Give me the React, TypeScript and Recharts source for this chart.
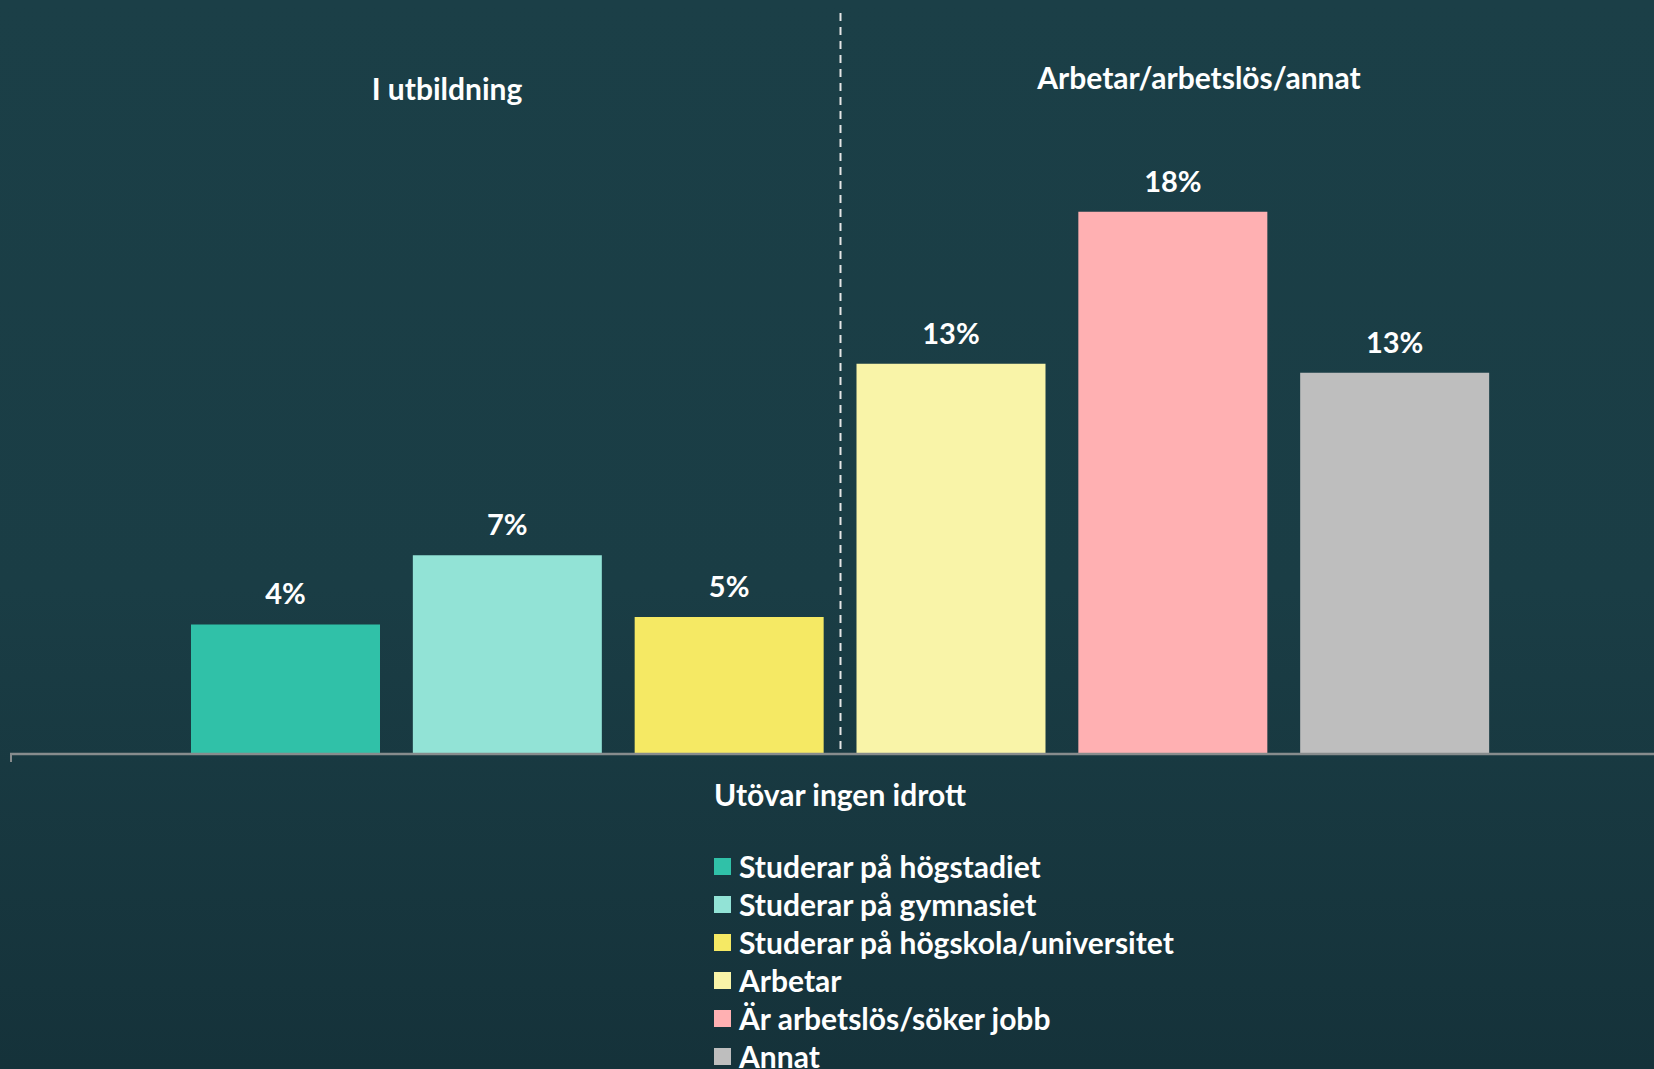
import React from 'react'
import { Bar, BarChart, Cell, LabelList, ReferenceLine, XAxis, YAxis } from 'recharts'

const categories = [
  'Studerar på högstadiet',
  'Studerar på gymnasiet',
  'Studerar på högskola/universitet',
  'Arbetar',
  'Är arbetslös/söker jobb',
  'Annat',
]
const values = [4.3, 6.6, 4.55, 12.96, 18.0, 12.66]
const valueLabels = ['4%', '7%', '5%', '13%', '18%', '13%']
const colors = ['#30c1a8', '#92e3d6', '#f5e964', '#f9f4a8', '#ffb0b2', '#bebebe']
const groupTitles = ['I utbildning', 'Arbetar/arbetslös/annat']
const axisTitle = 'Utövar ingen idrott'

const data = categories.map((name, i) => ({ name, value: values[i], label: valueLabels[i] }))

const W = 1654
const H = 1069
const FONT = 'Lato, "Open Sans", sans-serif'

const textStyle: React.CSSProperties = {
  position: 'absolute',
  color: '#ffffff',
  fontFamily: FONT,
  fontWeight: 700,
  whiteSpace: 'nowrap',
  transform: 'translateX(-50%)',
}

export default function App() {
  return (
    <div
      style={{
        position: 'absolute',
        left: 0,
        top: 0,
        width: W,
        height: H,
        overflow: 'hidden',
        background: 'linear-gradient(to bottom, #1b3f47 0%, #1a3d45 55%, #15323a 100%)',
      }}
    >
      <BarChart
        width={W}
        height={H}
        data={data}
        margin={{ top: 1, right: 0, left: 10, bottom: 285 }}
        barSize={189}
      >
        <XAxis
          dataKey="name"
          height={30}
          tick={false}
          tickLine={false}
          axisLine={{ stroke: '#878c8d', strokeWidth: 2.5 }}
          padding={{ left: 165, right: 148 }}
        />
        <YAxis hide domain={[0, 25]} />
        {/* divider between the two groups, at the end of the third band */}
        <ReferenceLine
          segment={[
            { x: categories[2], y: 24.6 },
            { x: categories[2], y: 0.15 },
          ]}
          position="end"
          stroke="#e6e6e6"
          strokeWidth={2}
          strokeDasharray="8 6"
        />
        <Bar dataKey="value" isAnimationActive={false}>
          {data.map((entry, index) => (
            <Cell key={`cell-${index}`} fill={colors[index]} />
          ))}
          <LabelList
            dataKey="label"
            position="top"
            offset={20}
            fill="#ffffff"
            style={{ fontFamily: FONT, fontWeight: 700, fontSize: 29 }}
          />
        </Bar>
      </BarChart>

      {/* small tick at the left end of the axis */}
      <div style={{ position: 'absolute', left: 10, top: 754, width: 2, height: 8, background: '#878c8d' }} />

      <div style={{ ...textStyle, left: 447, top: 69, fontSize: 30, lineHeight: '38px' }}>{groupTitles[0]}</div>
      <div style={{ ...textStyle, left: 1199, top: 58, fontSize: 30, lineHeight: '38px' }}>{groupTitles[1]}</div>
      <div style={{ ...textStyle, left: 840, top: 775, fontSize: 30, lineHeight: '38px' }}>{axisTitle}</div>

      {categories.map((name, i) => (
        <div
          key={name}
          style={{
            position: 'absolute',
            left: 714,
            top: 847 + i * 38,
            height: 38,
            display: 'flex',
            alignItems: 'center',
            color: '#ffffff',
            fontFamily: FONT,
            fontWeight: 700,
            fontSize: 30,
            whiteSpace: 'nowrap',
          }}
        >
          <span style={{ width: 17, height: 17, background: colors[i], marginRight: 8, display: 'inline-block' }} />
          {name}
        </div>
      ))}
    </div>
  )
}
